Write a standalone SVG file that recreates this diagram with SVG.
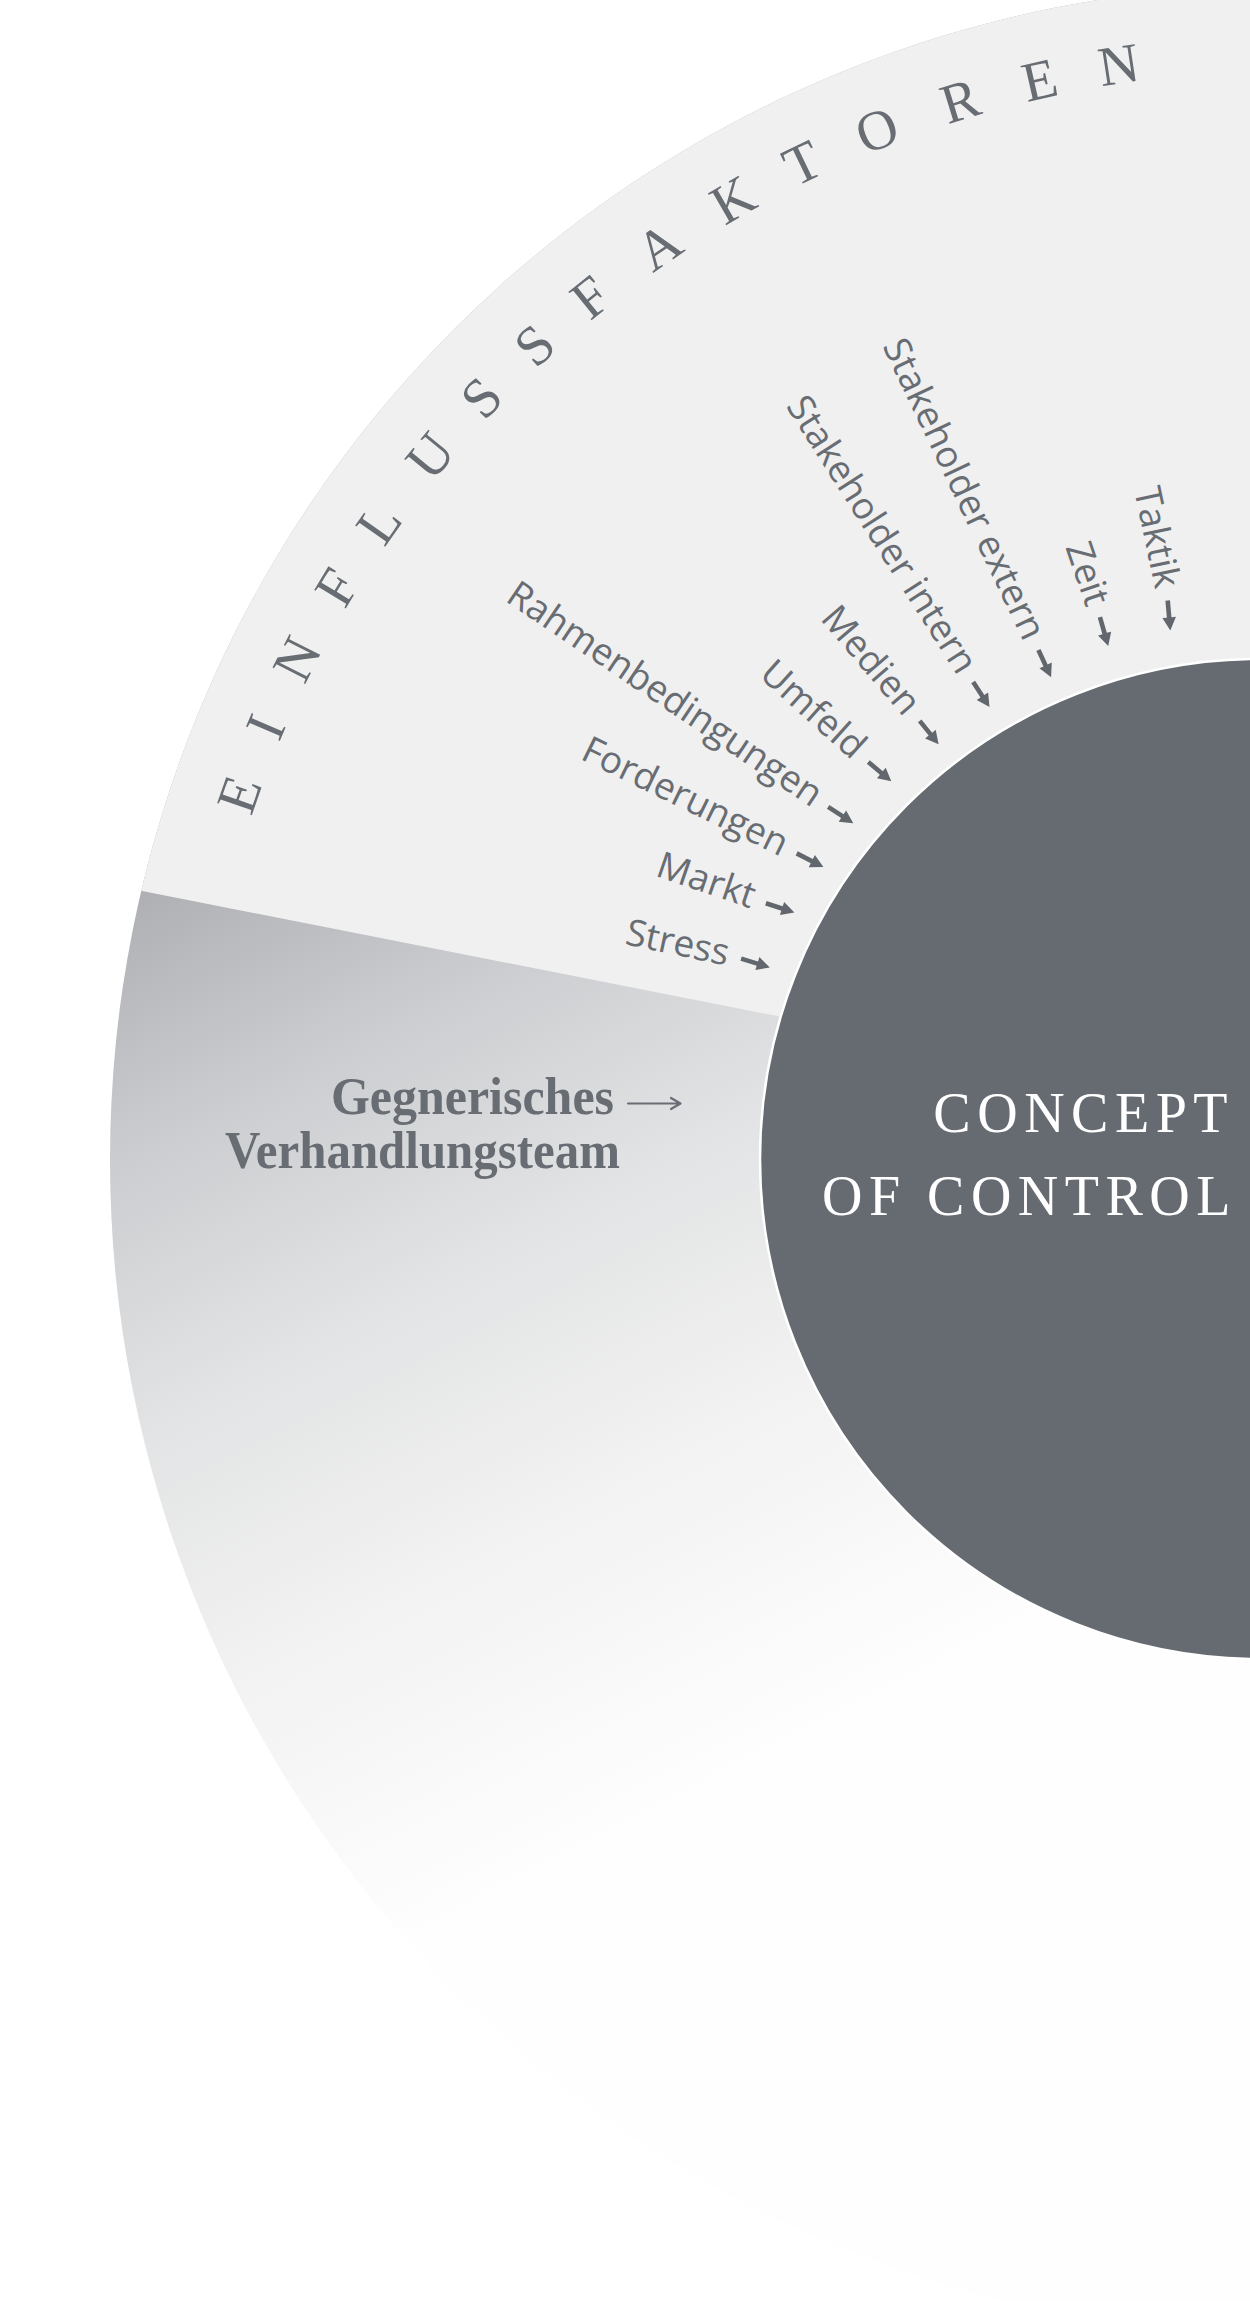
<svg xmlns="http://www.w3.org/2000/svg" xmlns:xlink="http://www.w3.org/1999/xlink" width="1250" height="2301" viewBox="0 0 1250 2301">
  <defs>
    <linearGradient id="fade" gradientUnits="userSpaceOnUse" x1="143" y1="891" x2="630" y2="1830">
      <stop offset="0" stop-color="#aeb0b3"/>
      <stop offset="0.22" stop-color="#cccdd0"/>
      <stop offset="0.45" stop-color="#e2e3e4"/>
      <stop offset="0.7" stop-color="#f2f2f2"/>
      <stop offset="1" stop-color="#fefefe"/>
    </linearGradient>
    <clipPath id="outerClip">
      <circle cx="1285" cy="1160" r="1175"/>
    </clipPath>
    <path id="arr" d="M-30,-2.3 L-13,-2.3 L-13,-6.8 L0,0 L-13,6.8 L-13,2.3 L-30,2.3 Z"/>
    <style>
      .ring { font-family: "Liberation Serif", "DejaVu Serif", serif; font-size: 56px; fill: #686c73; text-anchor: middle; }
      .lbl { font-family: "Open Sans", "Noto Sans", sans-serif; font-size: 37px; fill: #686c73; text-anchor: end; }
      .arrow { fill: #62666d; }
      .center { font-family: "Liberation Serif", "DejaVu Serif", serif; font-size: 56px; fill: #ffffff; letter-spacing: 6.5px; text-anchor: end; }
      .team { font-family: "Liberation Serif", "DejaVu Serif", serif; font-size: 52px; font-weight: bold; fill: #686c73; }
    </style>
  </defs>

  <rect width="1250" height="2301" fill="#ffffff"/>

  <!-- background rings -->
  <g id="outer-ring">
    <circle cx="1285" cy="1160" r="1175" fill="url(#fade)"/>
    <polygon clip-path="url(#outerClip)" points="-10,-100 1300,-100 1300,1119 -10,861" fill="#eff0ef"/>
  </g>

  <!-- ring title -->
  <g id="einflussfaktoren" class="ring">
    <text transform="translate(257.0,800.6) rotate(-70.73)">E</text>
    <text transform="translate(282.7,734.2) rotate(-66.98)">I</text>
    <text transform="translate(313.7,667.4) rotate(-63.11)">N</text>
    <text transform="translate(352.9,596.9) rotate(-58.86)">F</text>
    <text transform="translate(394.0,533.9) rotate(-54.91)">L</text>
    <text transform="translate(444.6,467.6) rotate(-50.52)">U</text>
    <text transform="translate(495.0,410.4) rotate(-46.51)">S</text>
    <text transform="translate(547.3,358.9) rotate(-42.64)">S</text>
    <text transform="translate(602.2,311.7) rotate(-38.84)">F</text>
    <text transform="translate(669.4,261.7) rotate(-34.42)">A</text>
    <text transform="translate(742.2,215.9) rotate(-29.89)">K</text>
    <text transform="translate(810.3,179.9) rotate(-25.84)">T</text>
    <text transform="translate(883.8,147.6) rotate(-21.62)">O</text>
    <text transform="translate(965.7,118.8) rotate(-17.05)">R</text>
    <text transform="translate(1043.8,98.1) rotate(-12.8)">E</text>
    <text transform="translate(1121.5,83.3) rotate(-8.63)">N</text>
  </g>

  <!-- center node -->
  <g id="concept-of-control">
    <circle cx="1260" cy="1159" r="500" fill="#666a71" stroke="#ffffff" stroke-width="2.5"/>
    <text class="center" x="1234" y="1132">CONCEPT</text>
    <text class="center" x="1237" y="1215">OF CONTROL</text>
  </g>

  <!-- opposing team node -->
  <g id="gegnerisches-verhandlungsteam" class="team">
    <text x="331" y="1114" textLength="283" lengthAdjust="spacingAndGlyphs">Gegnerisches</text>
    <text x="225" y="1168" textLength="395" lengthAdjust="spacingAndGlyphs">Verhandlungsteam</text>
  </g>

  <!-- factor labels -->
  <g id="factors" class="lbl">
    <g id="f-stress" transform="translate(769.8,967.4) rotate(17)"><text transform="translate(-30,0) rotate(-5)" x="-13" y="10">Stress</text></g>
    <g id="f-markt" transform="translate(794.4,912.5) rotate(18)"><text transform="translate(-30,0) rotate(1)" x="-13" y="10">Markt</text></g>
    <g id="f-forderungen" transform="translate(823.4,867) rotate(27)"><text transform="translate(-30,0) rotate(-1)" x="-13" y="10">Forderungen</text></g>
    <g id="f-rahmen" transform="translate(853.3,823.2) rotate(33)"><text transform="translate(-30,0) rotate(1)" x="-13" y="10">Rahmenbedingungen</text></g>
    <g id="f-umfeld" transform="translate(891.3,781.3) rotate(40)"><text transform="translate(-30,0) rotate(2)" x="-13" y="10">Umfeld</text></g>
    <g id="f-medien" transform="translate(938.6,744.2) rotate(51)"><text transform="translate(-30,0) rotate(-1.5)" x="-13" y="10">Medien</text></g>
    <g id="f-intern" transform="translate(989.5,707.1) rotate(57)"><text transform="translate(-30,0) rotate(0.5)" x="-13" y="10">Stakeholder intern</text></g>
    <g id="f-extern" transform="translate(1051.1,677.2) rotate(65)"><text transform="translate(-30,0) rotate(-0.5)" x="-13" y="10">Stakeholder extern</text></g>
    <g id="f-zeit" transform="translate(1108.2,646) rotate(74)"><text transform="translate(-30,0) rotate(-3)" x="-13" y="10">Zeit</text></g>
    <g id="f-taktik" transform="translate(1170.3,630.4) rotate(85)"><text transform="translate(-30,0) rotate(-7)" x="-13" y="10">Taktik</text></g>
  </g>

  <!-- connectors -->
  <g id="connectors" class="arrow">
    <use xlink:href="#arr" transform="translate(769.8,967.4) rotate(17)"/>
    <use xlink:href="#arr" transform="translate(794.4,912.5) rotate(18)"/>
    <use xlink:href="#arr" transform="translate(823.4,867) rotate(27)"/>
    <use xlink:href="#arr" transform="translate(853.3,823.2) rotate(33)"/>
    <use xlink:href="#arr" transform="translate(891.3,781.3) rotate(40)"/>
    <use xlink:href="#arr" transform="translate(938.6,744.2) rotate(51)"/>
    <use xlink:href="#arr" transform="translate(989.5,707.1) rotate(57)"/>
    <use xlink:href="#arr" transform="translate(1051.1,677.2) rotate(65)"/>
    <use xlink:href="#arr" transform="translate(1108.2,646) rotate(74)"/>
    <use xlink:href="#arr" transform="translate(1170.3,630.4) rotate(85)"/>
    <path d="M628,1103.5 L680,1103.5 M671,1098 L680.5,1103.5 L671,1109" fill="none" stroke="#686c73" stroke-width="2.2" stroke-linecap="round" stroke-linejoin="round"/>
  </g>
</svg>
